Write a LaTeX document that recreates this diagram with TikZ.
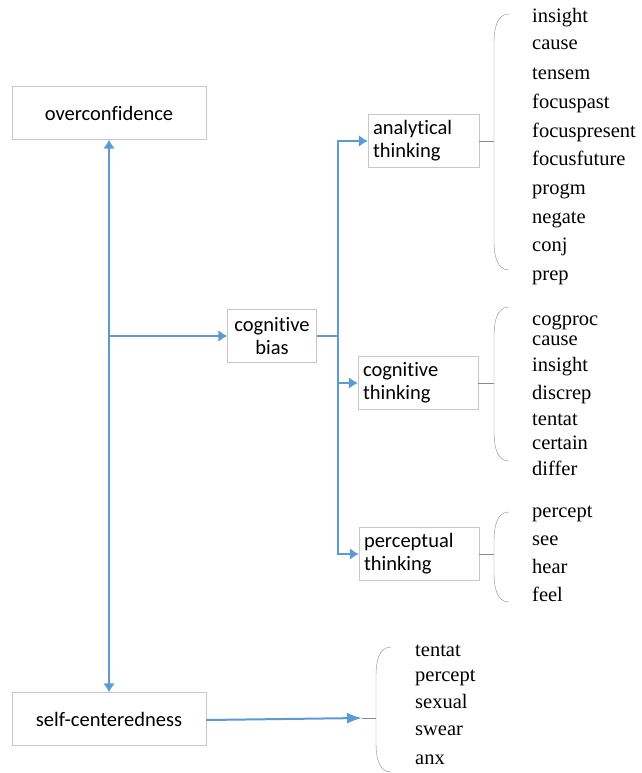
\documentclass[tikz,border=0pt]{standalone}
\usepackage{fontspec}
\setmainfont{Liberation Serif}
\newfontfamily\boxfont[Ligatures=NoCommon]{Carlito}
\newfontfamily\listfont{Liberation Serif}
\usepackage{xcolor}
\usepackage{tikz}
\usetikzlibrary{arrows.meta,positioning}
\definecolor{arrowblue}{RGB}{91,155,213}
\definecolor{boxgray}{RGB}{200,200,200}
\definecolor{bracegray}{RGB}{140,140,140}
% rounded bracket in front of a word list: x, top y, bottom y
\newcommand{\listbrace}[3]{%
  \draw[bracegray,thin] (#1+15,#2) to[out=180,in=90] (#1,#2+28) -- (#1,#3-28) to[out=-90,in=180] (#1+15,#3);}

\begin{document}
\begin{tikzpicture}[x=1pt,y=-1pt,
	box/.style={draw=boxgray,fill=white,font=\boxfont\fontsize{20.5}{23}\selectfont,inner ysep=0pt,inner xsep=5pt,minimum height=53pt},
	link/.style={draw=arrowblue,line width=2pt},
	tip/.style={-{Latex[length=9pt,width=12pt]}},
	word/.style={anchor=west,inner sep=0pt,text height=9.2pt,text depth=0pt,font=\listfont\fontsize{20.5}{23}\selectfont}]
	\useasboundingbox (0,0) rectangle (641,773);
	\node[box,minimum width=194pt] (over) at (109,113) {overconfidence};
	\node[box,minimum width=194pt] (self) at (109,719) {self-centeredness};
	\node[box,text width=79pt,align=center] (bias) at (272,336) {cognitive\\bias};
	\node[box,text width=101pt,align=left] (analytical) at (423.5,141) {analytical\\thinking};
	\node[box,text width=110pt,align=left] (cognitive) at (418,383) {cognitive\\thinking};
	\node[box,text width=110pt,align=left] (perceptual) at (419,554) {perceptual\\thinking};
	\coordinate (split) at (338,336);
	\coordinate (selftip) at (362,718);
	% blue connectors
	\draw[link,{Latex[length=9pt,width=12pt]}-{Latex[length=9pt,width=12pt]}] (over) -- (self);
	\draw[link,tip] (over |- bias) -- (bias);
	\draw[link] (bias) -- (split);
	\draw[link,tip] (split) |- (analytical);
	\draw[link,tip] (split) |- (cognitive);
	\draw[link,tip] (split) |- (perceptual);
	\draw[link,-{Latex[length=15pt,width=11pt]}] (self.east |- 0,720) -- (selftip);
	% brackets
	\coordinate (ana brace) at (494,141);
	\coordinate (cog brace) at (494,383);
	\coordinate (per brace) at (494,554);
	\coordinate (self brace) at (376,718);
	\draw[bracegray,thin] (analytical) -- (ana brace);
	\draw[bracegray,thin] (cognitive) -- (cog brace);
	\draw[bracegray,thin] (perceptual) -- (per brace);
	\draw[bracegray,thin] (selftip) -- (self brace);
	\listbrace{494}{14}{270}
	\listbrace{494}{307}{461}
	\listbrace{494}{512}{602}
	\listbrace{376}{647}{772}
	% word lists
	\foreach \w/\y [count=\i] in {insight/18,cause/45,tensem/75,focuspast/104,focuspresent/133,focusfuture/161,progm/190,negate/219,conj/247,prep/276}
		\node[word] (ana\i) at (532,\y) {\w};
	\foreach \w/\y [count=\i] in {cogproc/321,cause/341,insight/367,discrep/395,tentat/421,certain/445,differ/471}
		\node[word] (cog\i) at (532,\y) {\w};
	\foreach \w/\y [count=\i] in {percept/513,see/541,hear/569,feel/597}
		\node[word] (per\i) at (532,\y) {\w};
	\foreach \w/\y [count=\i] in {tentat/652,percept/677,sexual/704,swear/731,anx/760}
		\node[word] (self\i) at (415,\y) {\w};
\end{tikzpicture}
\end{document}
